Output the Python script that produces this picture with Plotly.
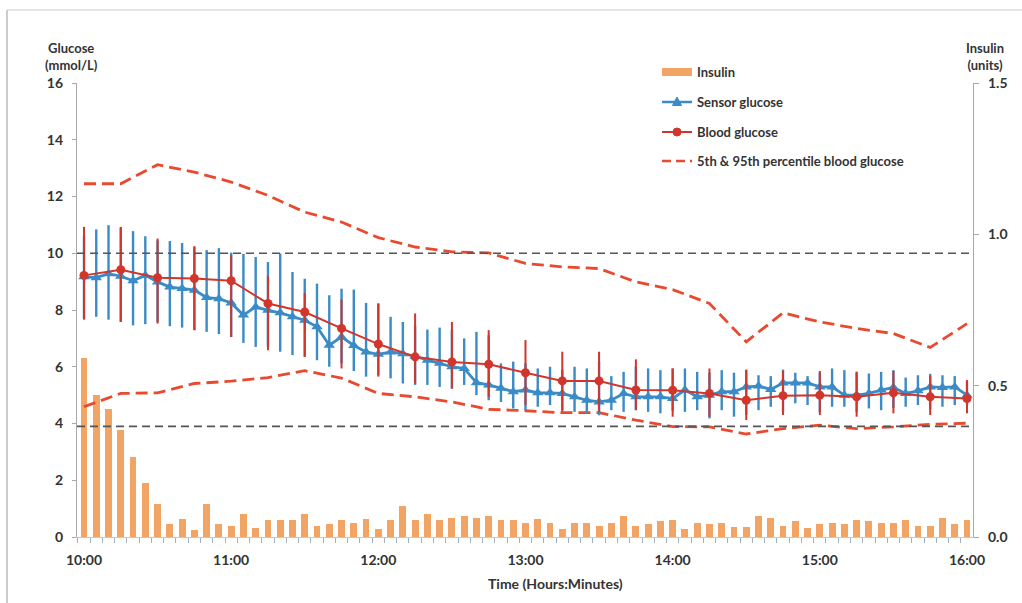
import plotly.graph_objects as go

# ---------------- DATA ----------------
hour_labels = ["10:00", "11:00", "12:00", "13:00", "14:00", "15:00", "16:00"]
hour_ticks = [0, 60, 120, 180, 240, 300, 360]          # minutes after 10:00

sensor_times = list(range(0, 361, 5))                  # every 5 min
blood_times = list(range(0, 361, 15))                  # every 15 min

insulin_units = [
    0.592, 0.468, 0.422, 0.354, 0.264, 0.179, 0.108, 0.044, 0.061, 0.024,
    0.108, 0.044, 0.038, 0.077, 0.031, 0.055, 0.055, 0.055, 0.075, 0.038,
    0.044, 0.057, 0.046, 0.061, 0.027, 0.056, 0.102, 0.056, 0.075, 0.056,
    0.064, 0.070, 0.064, 0.070, 0.056, 0.056, 0.045, 0.058, 0.047, 0.025,
    0.045, 0.047, 0.037, 0.047, 0.068, 0.037, 0.042, 0.053, 0.056, 0.025,
    0.047, 0.042, 0.047, 0.032, 0.032, 0.070, 0.064, 0.037, 0.054, 0.031,
    0.042, 0.047, 0.042, 0.056, 0.053, 0.047, 0.047, 0.056, 0.037, 0.037,
    0.064, 0.042, 0.056,
]

sensor_glucose = [
    9.17, 9.14, 9.28, 9.19, 9.03, 9.22, 8.99, 8.81, 8.76, 8.70,
    8.44, 8.40, 8.25, 7.82, 8.11, 7.99, 7.90, 7.76, 7.64, 7.41,
    6.76, 7.05, 6.75, 6.52, 6.44, 6.52, 6.46, 6.37, 6.23, 6.12,
    6.00, 5.94, 5.44, 5.36, 5.24, 5.12, 5.18, 5.08, 5.08, 5.06,
    4.94, 4.82, 4.76, 4.82, 5.06, 4.94, 4.94, 4.94, 4.88, 5.18,
    4.94, 5.00, 5.12, 5.12, 5.29, 5.32, 5.20, 5.43, 5.43, 5.43,
    5.29, 5.29, 5.00, 5.00, 5.06, 5.18, 5.27, 5.06, 5.15, 5.29,
    5.27, 5.29, 5.00,
]
sensor_upper = [
    10.60, 10.84, 10.99, 10.90, 10.78, 10.60, 10.45, 10.43, 10.36, 10.22,
    10.11, 10.18, 10.02, 9.98, 9.87, 9.69, 9.99, 9.34, 9.10, 8.93,
    8.52, 8.75, 8.72, 8.25, 8.23, 7.76, 7.58, 7.45, 7.31, 7.38,
    7.30, 7.00, 7.23, 7.11, 6.12, 6.18, 6.12, 5.94, 6.00, 5.90,
    6.00, 5.94, 6.18, 5.67, 5.82, 6.00, 5.94, 5.88, 5.94, 5.94,
    5.82, 5.79, 5.88, 5.79, 5.90, 5.70, 5.67, 5.90, 5.79, 5.67,
    5.80, 5.94, 5.88, 5.80, 5.76, 5.82, 5.88, 5.62, 5.70, 5.75,
    5.70, 5.67, 5.50,
]
sensor_lower = [
    7.70, 7.76, 7.66, 7.58, 7.46, 7.50, 7.58, 7.43, 7.38, 7.29,
    7.23, 7.15, 7.05, 6.84, 6.70, 6.70, 6.53, 6.41, 6.35, 6.23,
    6.00, 6.12, 5.85, 5.65, 5.70, 5.59, 5.41, 5.36, 5.36, 5.29,
    5.23, 5.36, 5.00, 4.82, 4.76, 4.53, 4.47, 4.59, 4.65, 4.47,
    4.41, 4.35, 4.29, 4.47, 4.41, 4.47, 4.41, 4.36, 4.45, 4.41,
    4.47, 4.18, 4.47, 4.24, 4.30, 4.47, 4.59, 4.40, 4.71, 4.65,
    4.40, 4.59, 4.59, 4.40, 4.53, 4.47, 4.55, 4.59, 4.65, 4.50,
    4.59, 4.65, 4.65,
]

blood_glucose = [
    9.22, 9.42, 9.14, 9.11, 9.03, 8.23, 7.93, 7.35, 6.80, 6.35,
    6.17, 6.09, 5.79, 5.50, 5.50, 5.18, 5.17, 5.06, 4.82, 4.98,
    5.00, 4.94, 5.08, 4.94, 4.88,
]
blood_upper = [
    10.93, 10.93, 10.52, 10.25, 9.93, 9.19, 8.60, 8.37, 8.23, 7.88,
    7.58, 7.29, 6.94, 6.53, 6.53, 6.26, 5.94, 5.94, 5.88, 5.86,
    5.85, 5.83, 5.85, 5.68, 5.53,
]
blood_lower = [
    7.66, 7.58, 7.52, 7.29, 7.05, 6.58, 6.35, 5.94, 5.65, 5.41,
    5.23, 4.94, 4.65, 4.41, 4.41, 4.47, 4.24, 4.24, 4.12, 4.30,
    4.30, 4.24, 4.36, 4.30, 4.36,
]

pct95_blood = [
    12.45, 12.45, 13.12, 12.86, 12.51, 12.04, 11.45, 11.10, 10.55, 10.22,
    10.05, 10.01, 9.64, 9.52, 9.46, 8.99, 8.72, 8.23, 6.88, 7.90,
    7.58, 7.35, 7.17, 6.68, 7.52,
]
pct5_blood = [
    4.59, 5.06, 5.08, 5.41, 5.49, 5.62, 5.86, 5.60, 5.06, 4.94,
    4.76, 4.50, 4.45, 4.38, 4.38, 4.12, 3.89, 3.88, 3.63, 3.82,
    3.94, 3.82, 3.88, 3.97, 4.01,
]

target_lines = [10.0, 3.9]

# ---------------- STYLE ----------------
W, H = 1022, 603
L, R, T, B = 77, 49, 83, 66
FONT = "Lato"
TXT = "#333333"
ORANGE = "#F2A464"
BLUE = "#3A8BC6"
RED = "#D2352B"
PCT = "#E8492F"


def px(xp):
    return (xp - L) / (W - L - R)


def py(yp):
    return (H - B - yp) / (H - T - B)


fig = go.Figure()

fig.add_trace(go.Bar(
    x=sensor_times, y=insulin_units, name="Insulin",
    marker=dict(color=ORANGE, line=dict(width=0)),
    width=2.8, yaxis="y", showlegend=False,
))

fig.add_trace(go.Scatter(
    x=blood_times, y=pct95_blood, mode="lines", yaxis="y2",
    line=dict(color=PCT, width=2.8, dash="12px,6px"), showlegend=False,
))
fig.add_trace(go.Scatter(
    x=blood_times, y=pct5_blood, mode="lines", yaxis="y2",
    line=dict(color=PCT, width=2.8, dash="12px,6px"), showlegend=False,
))

fig.add_trace(go.Scatter(
    x=sensor_times, y=sensor_glucose, mode="lines+markers", yaxis="y2",
    line=dict(color=BLUE, width=2.8),
    marker=dict(symbol="triangle-up", size=10, color=BLUE),
    error_y=dict(type="data", symmetric=False,
                 array=[u - v for u, v in zip(sensor_upper, sensor_glucose)],
                 arrayminus=[v - lo for v, lo in zip(sensor_glucose, sensor_lower)],
                 color=BLUE, thickness=2.4, width=0),
    showlegend=False,
))

fig.add_trace(go.Scatter(
    x=blood_times, y=blood_glucose, mode="lines+markers", yaxis="y2",
    line=dict(color=RED, width=2),
    marker=dict(symbol="circle", size=9, color=RED),
    error_y=dict(type="data", symmetric=False,
                 array=[u - v for u, v in zip(blood_upper, blood_glucose)],
                 arrayminus=[v - lo for v, lo in zip(blood_glucose, blood_lower)],
                 color=RED, thickness=2, width=0),
    showlegend=False,
))

shapes = []
for tv in target_lines:
    shapes.append(dict(type="line", xref="paper", yref="y2", x0=0, x1=1, y0=tv, y1=tv,
                       line=dict(color="#555555", width=1.6, dash="8px,5px"), layer="above"))

# page frame
shapes.append(dict(type="line", xref="paper", yref="paper", x0=px(7), x1=px(1030),
                   y0=py(10), y1=py(10), line=dict(color="#dddddd", width=1.5)))
shapes.append(dict(type="line", xref="paper", yref="paper", x0=px(7), x1=px(7),
                   y0=py(10), y1=py(610), line=dict(color="#cccccc", width=2)))

# custom legend
lx0, lx1, ltx = 662, 692, 695
ly = [72, 102, 132, 161]
shapes.append(dict(type="rect", xref="paper", yref="paper", x0=px(lx0), x1=px(lx1),
                   y0=py(ly[0] + 4), y1=py(ly[0] - 4), fillcolor=ORANGE, line=dict(width=0)))
shapes.append(dict(type="line", xref="paper", yref="paper", x0=px(lx0), x1=px(lx1),
                   y0=py(ly[1]), y1=py(ly[1]), line=dict(color=BLUE, width=2.5)))
cx = (lx0 + lx1) / 2
tri = "M {:.5f} {:.5f} L {:.5f} {:.5f} L {:.5f} {:.5f} Z".format(
    px(cx), py(ly[1] - 5), px(cx - 4.5), py(ly[1] + 3.5), px(cx + 4.5), py(ly[1] + 3.5))
shapes.append(dict(type="path", xref="paper", yref="paper", path=tri,
                   fillcolor=BLUE, line=dict(color=BLUE, width=1)))
shapes.append(dict(type="line", xref="paper", yref="paper", x0=px(lx0), x1=px(lx1),
                   y0=py(ly[2]), y1=py(ly[2]), line=dict(color=RED, width=2)))
shapes.append(dict(type="circle", xref="paper", yref="paper", x0=px(cx - 4), x1=px(cx + 4),
                   y0=py(ly[2] + 4), y1=py(ly[2] - 4), fillcolor=RED, line=dict(color=RED, width=1)))
shapes.append(dict(type="line", xref="paper", yref="paper", x0=px(lx0), x1=px(lx1),
                   y0=py(ly[3]), y1=py(ly[3]), line=dict(color=PCT, width=2.6, dash="9px,5px")))

legend_texts = ["Insulin", "Sensor glucose", "Blood glucose", "5th & 95th percentile blood glucose"]
annotations = []
for t, yy in zip(legend_texts, ly):
    annotations.append(dict(text=t, xref="paper", yref="paper", x=px(ltx), y=py(yy),
                            xanchor="left", yanchor="middle", showarrow=False,
                            font=dict(family=FONT, size=13, color=TXT, weight="bold")))

annotations += [
    dict(text="Glucose<br>(mmol/L)", xref="paper", yref="paper", x=px(71), y=py(56),
         xanchor="center", yanchor="middle", showarrow=False,
         font=dict(family=FONT, size=13, color=TXT, weight="bold")),
    dict(text="Insulin<br>(units)", xref="paper", yref="paper", x=px(985), y=py(56),
         xanchor="center", yanchor="middle", showarrow=False,
         font=dict(family=FONT, size=13, color=TXT, weight="bold")),
    dict(text="Time (Hours:Minutes)", xref="paper", yref="paper", x=px(555), y=py(583),
         xanchor="center", yanchor="middle", showarrow=False,
         font=dict(family=FONT, size=14, color=TXT, weight="bold")),
]

tickfont = dict(family=FONT, size=14, color=TXT, weight="bold")

fig.update_layout(
    width=W, height=H,
    margin=dict(l=L, r=R, t=T, b=B),
    paper_bgcolor="white", plot_bgcolor="white",
    showlegend=False,
    bargap=0,
    xaxis=dict(
        range=[-2.85, 362.45], tickvals=hour_ticks, ticktext=hour_labels,
        tickfont=tickfont, showgrid=False, zeroline=False,
        showline=True, linecolor="#c8c8c8", linewidth=1,
        ticks="", ticklabelstandoff=10,
        minor=dict(ticks="outside", tick0=2.5, dtick=5, ticklen=5,
                   tickcolor="#9fb0c0", tickwidth=1, showgrid=False),
    ),
    yaxis=dict(
        range=[0, 1.5], side="right", tickvals=[0, 0.5, 1.0, 1.5],
        ticktext=["0.0", "0.5", "1.0", "1.5"], tickfont=tickfont,
        showgrid=False, zeroline=False, showline=True, linecolor="#a8a8a8",
        linewidth=1.3, ticks="outside", ticklen=5, tickcolor="#a8a8a8",
        ticklabelstandoff=6,
    ),
    yaxis2=dict(
        range=[0, 16], side="left", overlaying="y", dtick=2, tickfont=tickfont,
        showgrid=False, zeroline=False, showline=True, linecolor="#a8a8a8",
        linewidth=1.3, ticks="outside", ticklen=4, tickcolor="#a8a8a8",
        ticklabelstandoff=6,
    ),
    shapes=shapes,
    annotations=annotations,
)

fig.write_html("out.html")
